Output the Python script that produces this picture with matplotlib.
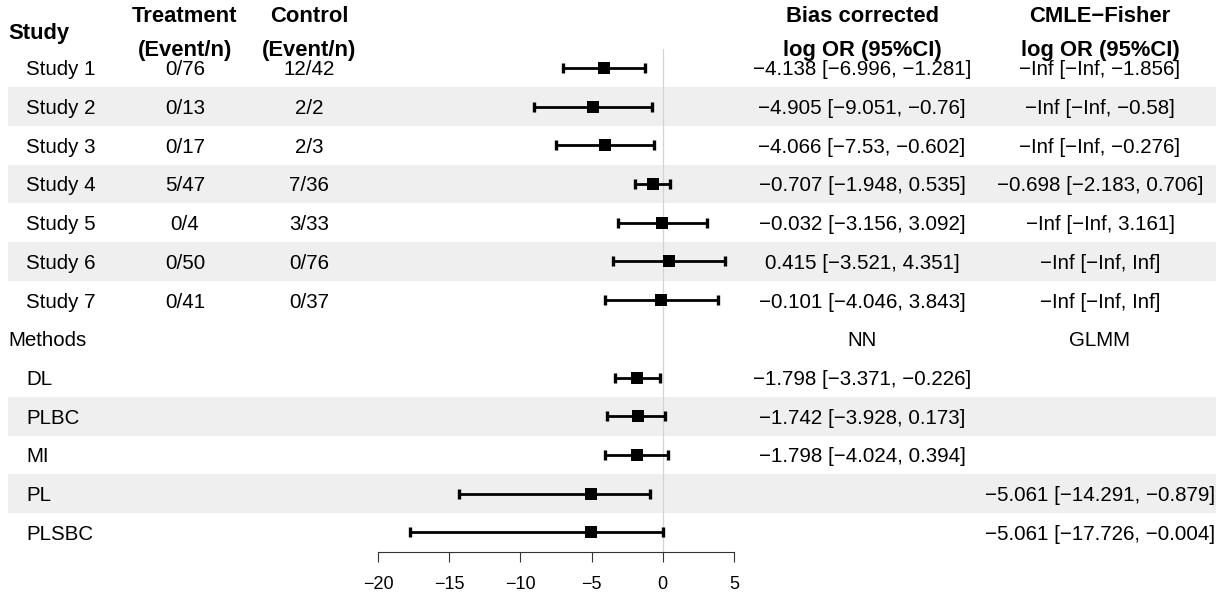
import matplotlib
matplotlib.use("Agg")
import matplotlib.pyplot as plt
from matplotlib.patches import Rectangle
import numpy as np

plt.rcParams['font.family'] = ['Liberation Sans', 'DejaVu Sans']

# ---------------- data ----------------
studies = ['Study 1', 'Study 2', 'Study 3', 'Study 4', 'Study 5', 'Study 6', 'Study 7']
treatment = ['0/76', '0/13', '0/17', '5/47', '0/4', '0/50', '0/41']
control = ['12/42', '2/2', '2/3', '7/36', '3/33', '0/76', '0/37']
study_est = [-4.138, -4.905, -4.066, -0.707, -0.032, 0.415, -0.101]
study_lo = [-6.996, -9.051, -7.53, -1.948, -3.156, -3.521, -4.046]
study_hi = [-1.281, -0.76, -0.602, 0.535, 3.092, 4.351, 3.843]
cmle_est = [-np.inf, -np.inf, -np.inf, -0.698, -np.inf, -np.inf, -np.inf]
cmle_lo = [-np.inf, -np.inf, -np.inf, -2.183, -np.inf, -np.inf, -np.inf]
cmle_hi = [-1.856, -0.58, -0.276, 0.706, 3.161, np.inf, np.inf]

methods = ['DL', 'PLBC', 'MI', 'PL', 'PLSBC']
method_est = [-1.798, -1.742, -1.798, -5.061, -5.061]
method_lo = [-3.371, -3.928, -4.024, -14.291, -17.726]
method_hi = [-0.226, 0.173, 0.394, -0.879, -0.004]
method_group = ['NN', 'NN', 'NN', 'GLMM', 'GLMM']
group_labels = ['NN', 'GLMM']

col_headers = [('Treatment', '(Event/n)'), ('Control', '(Event/n)'),
               ('Bias corrected', 'log OR (95%CI)'), ('CMLE\u2212Fisher', 'log OR (95%CI)')]
xticks = [-20, -15, -10, -5, 0, 5]


def fmt(v):
    if np.isinf(v):
        s = 'Inf' if v > 0 else '-Inf'
    else:
        s = f"{round(v, 3):g}"
    return s.replace('-', '\u2212')


def ci_text(e, l, h):
    return f"{fmt(e)} [{fmt(l)}, {fmt(h)}]"


# ---------------- layout ----------------
W, H = 1226, 596
DPI = 100
row_h = 38.7
row0 = 67.95
n_rows = len(studies) + 1 + len(methods)
body_fs = 14.8
head_fs = 15.8
cap_off = 7.4

x_label_hdr = 8
x_label = 26
x_treat = 185
x_ctrl = 309
x_bias = 862
x_cmle = 1100
band_x0, band_x1 = 8, 1216
band_col = '#efefef'

fig = plt.figure(figsize=(W / DPI, H / DPI), dpi=DPI)
fig.patch.set_facecolor('white')

axt = fig.add_axes([0, 0, 1, 1])
axt.set_xlim(0, W)
axt.set_ylim(H, 0)
axt.axis('off')


def ry(i):
    return row0 + row_h * i


# bands
band_rows = [i for i in range(len(studies)) if i % 2 == 1]
m_start = len(studies) + 1
band_rows += [m_start + j for j in range(len(methods)) if j % 2 == 1]
for i in band_rows:
    axt.add_patch(Rectangle((band_x0, ry(i) - row_h / 2), band_x1 - band_x0, row_h,
                            facecolor=band_col, edgecolor='none', zorder=0))

# headers
l1 = 21.85
l2 = 55.8
axt.text(x_label_hdr, (l1 + l2) / 2, 'Study', fontsize=head_fs, fontweight='bold',
         ha='left', va='baseline')
for xc, (a, b) in zip([x_treat, x_ctrl, x_bias, x_cmle], col_headers):
    axt.text(xc, l1, a, fontsize=head_fs, fontweight='bold', ha='center', va='baseline')
    axt.text(xc, l2, b, fontsize=head_fs, fontweight='bold', ha='center', va='baseline')

# study rows
for i, name in enumerate(studies):
    y = ry(i) + cap_off
    axt.text(x_label, y, name, fontsize=body_fs, ha='left', va='baseline')
    axt.text(x_treat, y, treatment[i], fontsize=body_fs, ha='center', va='baseline')
    axt.text(x_ctrl, y, control[i], fontsize=body_fs, ha='center', va='baseline')
    axt.text(x_bias, y, ci_text(study_est[i], study_lo[i], study_hi[i]),
             fontsize=body_fs, ha='center', va='baseline')
    axt.text(x_cmle, y, ci_text(cmle_est[i], cmle_lo[i], cmle_hi[i]),
             fontsize=body_fs, ha='center', va='baseline')

# methods header row
ym = ry(len(studies)) + cap_off
axt.text(x_label_hdr, ym, 'Methods', fontsize=body_fs, ha='left', va='baseline')
axt.text(x_bias, ym, group_labels[0], fontsize=body_fs, ha='center', va='baseline')
axt.text(x_cmle, ym, group_labels[1], fontsize=body_fs, ha='center', va='baseline')

for j, name in enumerate(methods):
    y = ry(m_start + j) + cap_off
    axt.text(x_label, y, name, fontsize=body_fs, ha='left', va='baseline')
    xc = x_bias if method_group[j] == group_labels[0] else x_cmle
    axt.text(xc, y, ci_text(method_est[j], method_lo[j], method_hi[j]),
             fontsize=body_fs, ha='center', va='baseline')

# ---------------- forest panel ----------------
fx0, fx1 = 378, 734
fy_top = ry(0) - row_h / 2
fy_bot = ry(n_rows - 1) + row_h / 2
axf = fig.add_axes([fx0 / W, 1 - fy_bot / H, (fx1 - fx0) / W, (fy_bot - fy_top) / H])
axf.patch.set_alpha(0)
axf.set_xlim(xticks[0], xticks[-1])
axf.set_ylim(n_rows - 0.5, -0.5)

axf.axvline(0, color='#d3d3d3', lw=0.9, zorder=1)

est = np.array(study_est + method_est)
lo = np.array(study_lo + method_lo)
hi = np.array(study_hi + method_hi)
rows = np.array(list(range(len(studies))) + [m_start + j for j in range(len(methods))])
axf.errorbar(est, rows, xerr=[est - lo, hi - est], fmt='none', ecolor='black',
             elinewidth=2.0, capsize=3.8, capthick=2.4, zorder=3)
axf.plot(est, rows, 's', color='black', markersize=8.8, markeredgewidth=0, zorder=4)

for s in ['top', 'left', 'right']:
    axf.spines[s].set_visible(False)
axf.spines['bottom'].set_color('#333333')
axf.spines['bottom'].set_linewidth(0.8)
axf.set_yticks([])
axf.set_xticks(xticks)
axf.tick_params(axis='x', direction='out', length=7.5, width=0.8, color='#333333',
                labelsize=13, pad=10)

fig.savefig('out.png', dpi=DPI, facecolor='white')
